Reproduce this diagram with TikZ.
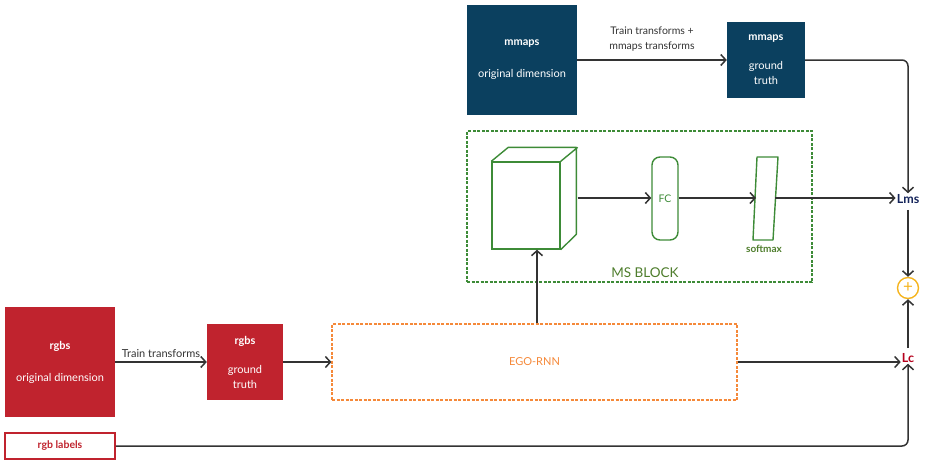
\documentclass[tikz,border=0pt]{standalone}
\usepackage{fontspec}
\setmainfont{Lato}
\usepackage{xcolor}
\usetikzlibrary{arrows.meta,positioning}

\definecolor{mapblue}{HTML}{0B405F}
\definecolor{rgbred}{HTML}{C0232E}
\definecolor{msgreen}{HTML}{3D8B37}
\definecolor{msolive}{HTML}{4E7D2C}
\definecolor{egoorange}{HTML}{F5893A}
\definecolor{lmsblue}{HTML}{14245A}
\definecolor{lcred}{HTML}{B5001C}
\definecolor{sumyellow}{HTML}{F5B41E}
\definecolor{wire}{HTML}{333333}

\begin{document}
\begin{tikzpicture}[x=1pt, y=-1pt, font=\fontsize{11}{15}\selectfont]
    % Define styles
    \tikzstyle{datablock} = [rectangle, text=white, align=center, inner sep=0pt]
    \tikzstyle{arrow} = [draw=wire, line width=1.5pt, -{Straight Barb[length=5pt,width=11pt]}]
    \tikzstyle{lossnode} = [inner sep=1pt, font=\fontsize{12.5}{14}\selectfont\bfseries]
    \useasboundingbox (0,0) rectangle (927,467);

    % mmaps branch
    \node [datablock, fill=mapblue, minimum width=110pt, minimum height=110pt] (morig) at (522,60)
        {\textbf{mmaps}\\[17pt]original dimension};
    \node [datablock, fill=mapblue, minimum width=78pt, minimum height=76pt] (mgt) at (766,60)
        {\textbf{mmaps}\\[14pt]ground\\truth};
    \draw [arrow] (morig) -- node [above, align=center, text=wire, font=\fontsize{10.5}{15}\selectfont, yshift=5pt] {Train transforms +\\mmaps transforms} (mgt);

    % rgbs branch
    \node [datablock, fill=rgbred, minimum width=110pt, minimum height=110pt] (rorig) at (60,362)
        {\textbf{rgbs}\\[17pt]original dimension};
    \node [datablock, fill=rgbred, minimum width=76pt, minimum height=76pt] (rgt) at (245,362)
        {\textbf{rgbs}\\[14pt]ground\\truth};
    \draw [arrow] (rorig) -- node [above, text=wire, font=\fontsize{11}{13}\selectfont] {Train transforms} (rgt);
    \node [rectangle, draw=rgbred, line width=1.5pt, fill=white, text=rgbred, minimum width=110pt, minimum height=26pt,
        font=\fontsize{10.5}{12}\selectfont\bfseries] (rlabels) at (60,446) {rgb labels};

    % EGO-RNN
    \node [rectangle, draw=egoorange, line width=1.2pt, dash pattern=on 3pt off 1.5pt, text=egoorange,
        minimum width=405pt, minimum height=76pt] (ego) at (534.5,362) {EGO-RNN};
    \draw [arrow] (rgt) -- (ego);

    % MS block
    \node [rectangle, draw=msgreen, line width=1.2pt, dash pattern=on 3pt off 1.5pt,
        minimum width=345pt, minimum height=151pt] (msblock) at (639.5,206.5) {};
    \node [text=msolive, font=\fontsize{13.5}{15}\selectfont] (mslabel) at (645,273) {MS BLOCK};
    \node [rectangle, draw=msgreen, line width=1.4pt, minimum width=68pt, minimum height=87pt] (cube) at (526,205.5) {};
    \draw [msgreen, line width=1.4pt, line join=round] (cube.north west) -- ++(17,-14) -- ++(68,0) -- ++(0,87) -- (cube.south east)
        (cube.north east) -- ++(17,-14);
    \coordinate (cuberight) at ([shift={(17,-7.5)}]cube.east);
    \node [rectangle, rounded corners=8pt, draw=msgreen, line width=1.4pt, text=msgreen, minimum width=26pt, minimum height=83pt,
        font=\fontsize{10.5}{12}\selectfont] (fc) at (665,198.5) {FC};
    \draw [msgreen, line width=1.4pt, line join=round] (757,157) -- (778,157) -- (773,240) -- (753,240) -- cycle;
    \coordinate (softin) at (756,198);
    \coordinate (softout) at (775,198);
    \node [text=msolive, font=\fontsize{10}{11}\selectfont\bfseries] (softlabel) at (764,249) {softmax};

    % losses
    \node [lossnode, text=lmsblue] (lms) at (908,199) {Lms};
    \node [lossnode, text=lcred] (lc) at (908,358) {Lc};
    \node [circle, draw=sumyellow, line width=1.4pt, text=sumyellow, minimum size=21pt, inner sep=0pt,
        font=\fontsize{17}{17}\selectfont] (sum) at (908,288) {+};

    % arrows
    \draw [arrow] (ego.north -| 537,0) -- (cube.south -| 537,0);
    \draw [arrow] (cuberight) -- (fc.west |- cuberight);
    \draw [arrow] (fc.east |- cuberight) -- (softin);
    \draw [arrow] (softout) -- (lms.west |- softout);
    \draw [arrow, rounded corners=6pt] (mgt.east) -| (lms.north);
    \draw [arrow] (lms.south) ++(0,5) -- (sum.north);
    \draw [arrow] (lc.north) ++(0,-4) -- (sum.south);
    \draw [arrow] (ego.east) -- (lc.west |- ego.east);
    \draw [arrow, rounded corners=6pt] (rlabels.east) -| (lc.south);
\end{tikzpicture}
\end{document}
